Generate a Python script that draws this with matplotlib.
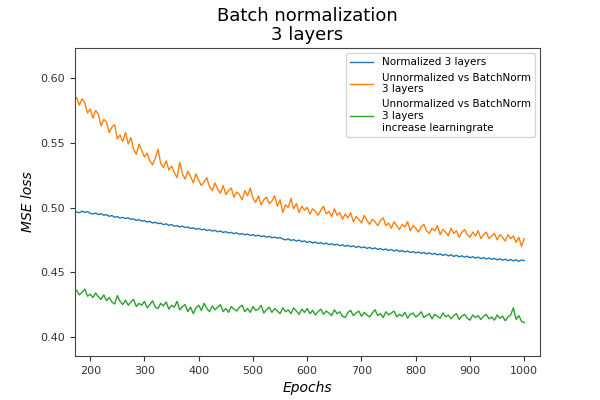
import matplotlib
matplotlib.use("Agg")
import matplotlib.pyplot as plt
import numpy as np

# epochs sampled every 5 steps
epochs = np.arange(175, 1001, 5)

normalized = [
    0.4965, 0.4960, 0.4972, 0.4962, 0.4968, 0.4955, 0.4950, 0.4958, 0.4945, 0.4952,
    0.4940, 0.4945, 0.4932, 0.4938, 0.4925, 0.4930, 0.4918, 0.4924, 0.4915, 0.4920,
    0.4908, 0.4912, 0.4900, 0.4906, 0.4895, 0.4898, 0.4888, 0.4893, 0.4880, 0.4886,
    0.4875, 0.4880, 0.4868, 0.4874, 0.4862, 0.4868, 0.4855, 0.4860, 0.4850, 0.4856,
    0.4845, 0.4850, 0.4838, 0.4843, 0.4832, 0.4838, 0.4828, 0.4833, 0.4822, 0.4828,
    0.4818, 0.4824, 0.4812, 0.4818, 0.4808, 0.4813, 0.4803, 0.4808, 0.4798, 0.4804,
    0.4793, 0.4799, 0.4789, 0.4795, 0.4784, 0.4790, 0.4780, 0.4786, 0.4775, 0.4781,
    0.4771, 0.4777, 0.4766, 0.4772, 0.4762, 0.4768, 0.4757, 0.4750, 0.4758, 0.4745,
    0.4752, 0.4740, 0.4748, 0.4736, 0.4742, 0.4730, 0.4738, 0.4726, 0.4733, 0.4722,
    0.4729, 0.4718, 0.4725, 0.4713, 0.4720, 0.4710, 0.4716, 0.4705, 0.4712, 0.4700,
    0.4708, 0.4697, 0.4704, 0.4692, 0.4700, 0.4689, 0.4696, 0.4684, 0.4692, 0.4680,
    0.4688, 0.4676, 0.4684, 0.4672, 0.4680, 0.4668, 0.4676, 0.4664, 0.4672, 0.4660,
    0.4668, 0.4657, 0.4664, 0.4652, 0.4660, 0.4649, 0.4657, 0.4645, 0.4653, 0.4642,
    0.4650, 0.4638, 0.4646, 0.4634, 0.4642, 0.4630, 0.4638, 0.4626, 0.4635, 0.4622,
    0.4631, 0.4619, 0.4627, 0.4616, 0.4624, 0.4612, 0.4620, 0.4609, 0.4617, 0.4605,
    0.4614, 0.4602, 0.4610, 0.4599, 0.4607, 0.4596, 0.4604, 0.4593, 0.4601, 0.4590,
    0.4598, 0.4588, 0.4596, 0.4585, 0.4594, 0.4590,
]

unnorm_bn = [
    0.585, 0.579, 0.584, 0.581, 0.573, 0.576, 0.569, 0.575, 0.572, 0.563,
    0.568, 0.566, 0.558, 0.562, 0.564, 0.553, 0.556, 0.551, 0.558, 0.549,
    0.554, 0.545, 0.541, 0.549, 0.544, 0.539, 0.542, 0.536, 0.533, 0.538,
    0.545, 0.534, 0.531, 0.536, 0.529, 0.532, 0.527, 0.523, 0.535, 0.526,
    0.522, 0.528, 0.524, 0.519, 0.526, 0.521, 0.517, 0.520, 0.523, 0.516,
    0.513, 0.519, 0.514, 0.511, 0.517, 0.510, 0.513, 0.515, 0.508, 0.512,
    0.510, 0.506, 0.513, 0.509, 0.515, 0.507, 0.504, 0.509, 0.502, 0.506,
    0.508, 0.503, 0.505, 0.509, 0.501, 0.506, 0.496, 0.502, 0.500, 0.507,
    0.499, 0.503, 0.496, 0.501, 0.498, 0.500, 0.495, 0.499, 0.497, 0.494,
    0.498, 0.501, 0.495, 0.497, 0.493, 0.499, 0.494, 0.496, 0.491, 0.495,
    0.492, 0.496, 0.489, 0.493, 0.491, 0.488, 0.494, 0.490, 0.487, 0.491,
    0.489, 0.486, 0.490, 0.492, 0.486, 0.488, 0.484, 0.489, 0.486, 0.483,
    0.487, 0.485, 0.489, 0.482, 0.486, 0.484, 0.481, 0.485, 0.487, 0.482,
    0.480, 0.484, 0.482, 0.486, 0.479, 0.483, 0.481, 0.478, 0.484, 0.480,
    0.482, 0.477, 0.481, 0.483, 0.479, 0.477, 0.481, 0.478, 0.482, 0.476,
    0.479, 0.481, 0.476, 0.478, 0.480, 0.475, 0.479, 0.477, 0.474, 0.479,
    0.476, 0.478, 0.473, 0.477, 0.470, 0.476,
]

unnorm_bn_lr = [
    0.4360, 0.4325, 0.4345, 0.4370, 0.4315, 0.4330, 0.4305, 0.4340, 0.4310, 0.4290,
    0.4325, 0.4280, 0.4305, 0.4270, 0.4255, 0.4320, 0.4275, 0.4250, 0.4285, 0.4245,
    0.4270, 0.4290, 0.4235, 0.4260, 0.4245, 0.4275, 0.4225, 0.4250, 0.4280, 0.4230,
    0.4220, 0.4260, 0.4240, 0.4270, 0.4215, 0.4245, 0.4230, 0.4275, 0.4210, 0.4235,
    0.4250, 0.4195, 0.4230, 0.4180, 0.4225, 0.4245, 0.4205, 0.4260, 0.4220, 0.4195,
    0.4240, 0.4210, 0.4230, 0.4250, 0.4195, 0.4220, 0.4190, 0.4235, 0.4215, 0.4200,
    0.4230, 0.4245, 0.4195, 0.4220, 0.4190, 0.4235, 0.4205, 0.4215, 0.4245, 0.4185,
    0.4210, 0.4230, 0.4190, 0.4220, 0.4200, 0.4180, 0.4225, 0.4195, 0.4210, 0.4180,
    0.4225, 0.4200, 0.4175, 0.4215, 0.4190, 0.4220, 0.4180, 0.4205, 0.4170, 0.4195,
    0.4215, 0.4175, 0.4200, 0.4185, 0.4165, 0.4210, 0.4180, 0.4195, 0.4160, 0.4150,
    0.4190, 0.4205, 0.4165, 0.4185, 0.4200, 0.4160, 0.4190, 0.4170, 0.4155, 0.4185,
    0.4210, 0.4165, 0.4180, 0.4150, 0.4195, 0.4170, 0.4185, 0.4200, 0.4155, 0.4175,
    0.4160, 0.4190, 0.4145, 0.4175, 0.4185, 0.4155, 0.4170, 0.4195, 0.4150, 0.4165,
    0.4180, 0.4140, 0.4175, 0.4160, 0.4145, 0.4185, 0.4155, 0.4170, 0.4140, 0.4165,
    0.4180, 0.4135, 0.4160, 0.4175, 0.4145, 0.4130, 0.4170, 0.4150, 0.4165, 0.4135,
    0.4160, 0.4175, 0.4140, 0.4155, 0.4130, 0.4170, 0.4145, 0.4160, 0.4125, 0.4155,
    0.4170, 0.4225, 0.4135, 0.4165, 0.4120, 0.4110,
]

labels = [
    "Normalized 3 layers",
    "Unnormalized vs BatchNorm\n3 layers",
    "Unnormalized vs BatchNorm\n3 layers\nincrease learningrate",
]

fig, ax = plt.subplots(figsize=(6, 4), dpi=100)
ax.plot(epochs, normalized, color="#1f77b4", linewidth=1, label=labels[0])
ax.plot(epochs, unnorm_bn, color="#ff7f0e", linewidth=1, label=labels[1])
ax.plot(epochs, unnorm_bn_lr, color="#2ca02c", linewidth=1, label=labels[2])

ax.set_xlim(172, 1029)
ax.set_ylim(0.3853, 0.6232)
ax.set_xticks([200, 300, 400, 500, 600, 700, 800, 900, 1000])
ax.set_yticks([0.40, 0.45, 0.50, 0.55, 0.60])
ax.tick_params(labelsize=8, colors="#333333")
for s in ax.spines.values():
    s.set_color("#444444")

ax.set_title("Batch normalization\n3 layers", fontsize=13, linespacing=1.05)
ax.set_xlabel("Epochs", fontsize=10, style="italic")
ax.set_ylabel("MSE loss", fontsize=10, style="italic")
ax.legend(loc="upper right", fontsize=7.5, handlelength=2.2)

fig.savefig("out.png", dpi=100)
